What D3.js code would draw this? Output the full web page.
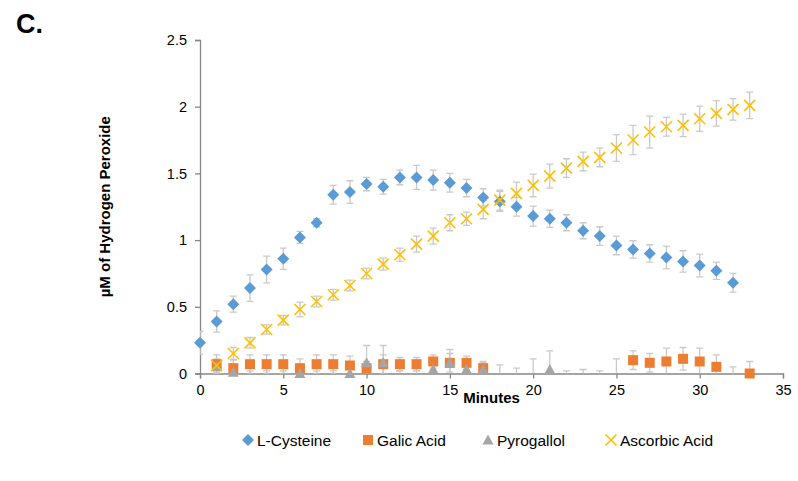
<!DOCTYPE html>
<html><head><meta charset="utf-8">
<script src="https://cdn.jsdelivr.net/npm/d3@7"></script>
<style>body{margin:0;background:#fff}svg{display:block}text{font-family:"Liberation Sans",Arial,sans-serif}</style>
</head><body>
<svg id="c" width="798" height="481"></svg>
<script>
const minutes = d3.range(0, 34);
// values per minute (null = no point)
const lCysteine = [0.23,0.39,0.52,0.64,0.78,0.86,1.02,1.13,1.34,1.36,1.42,1.40,1.47,1.47,1.45,1.43,1.39,1.32,1.29,1.25,1.18,1.16,1.13,1.07,1.03,0.96,0.93,0.90,0.87,0.84,0.81,0.77,0.68,null];
const lCysteineErr = [0.085,0.08,0.06,0.1,0.1,0.08,0.045,0.03,0.07,0.085,0.05,0.055,0.055,0.09,0.075,0.07,0.065,0.065,0.075,0.07,0.075,0.065,0.06,0.06,0.07,0.07,0.065,0.065,0.085,0.08,0.085,0.065,0.07,null];
const galicAcid = [null,0.07,0.04,0.07,0.07,0.07,0.04,0.07,0.07,0.06,0.04,0.07,0.07,0.07,0.09,0.08,0.08,0.04,null,null,null,null,null,null,null,null,0.10,0.08,0.09,0.11,0.09,0.05,-0.02,0.00];
const galicAcidErr = [null,0.07,0.06,0.07,0.07,0.07,0.07,0.07,0.07,0.07,0.05,0.07,0.05,0.05,0.05,0.07,0.05,0.05,null,null,null,null,null,null,null,null,0.07,0.07,0.1,0.085,0.1,0.09,0.07,0.09];
const pyrogallol = [null,0.05,0.01,-0.03,-0.03,-0.03,0.00,-0.03,-0.03,0.00,0.08,0.08,-0.03,-0.03,0.03,0.08,0.03,0.03,-0.02,-0.03,-0.03,0.03,-0.03,-0.03,-0.03,-0.03,null,null,null,null,null,null,null,null];
const pyrogallolErr = [null,0.05,0.04,0.05,0.05,0.05,0.06,0.05,0.05,0.06,0.13,0.13,0.05,0.05,0.04,0.1,0.04,0.05,0.085,0.07,0.14,0.14,0.05,0.06,0.05,0.14,null,null,null,null,null,null,null,null];
const ascorbicAcid = [null,0.06,0.15,0.23,0.33,0.40,0.48,0.54,0.59,0.66,0.75,0.82,0.89,0.97,1.03,1.13,1.16,1.23,1.30,1.35,1.41,1.48,1.54,1.59,1.62,1.69,1.75,1.81,1.85,1.86,1.91,1.95,1.98,2.01];
const ascorbicAcidErr = [null,0.05,0.045,0.04,0.035,0.035,0.055,0.04,0.04,0.04,0.04,0.045,0.05,0.06,0.06,0.06,0.05,0.07,0.075,0.085,0.085,0.09,0.07,0.07,0.07,0.1,0.11,0.12,0.07,0.085,0.095,0.095,0.08,0.1];
const seriesNames = ["L-Cysteine","Galic Acid","Pyrogallol","Ascorbic Acid"];
const xTicks = [0,5,10,15,20,25,30,35];
const yTicks = [0,0.5,1,1.5,2,2.5];

const colors = ["#5b9bd5","#ed7d31","#a5a5a5","#ffc000"];
const symbols = ["diamond","square","triangle","x"];
const series = [
  {name:seriesNames[0], v:lCysteine, e:lCysteineErr},
  {name:seriesNames[1], v:galicAcid, e:galicAcidErr},
  {name:seriesNames[2], v:pyrogallol, e:pyrogallolErr},
  {name:seriesNames[3], v:ascorbicAcid, e:ascorbicAcidErr}
];

const svg = d3.select("#c");
const x = d3.scaleLinear().domain([0,35]).range([200,783]);
const y = d3.scaleLinear().domain([0,2.5]).range([373.5,40]);
const axisColor = "#868686";

svg.append("defs").append("clipPath").attr("id","pa").append("rect")
  .attr("x",x(0)).attr("y",y(2.5)).attr("width",x(35)-x(0)).attr("height",y(0)-y(2.5));

// axes
const gy = svg.append("g").attr("transform",`translate(${x(0)},0)`)
  .call(d3.axisLeft(y).tickValues(yTicks).tickSize(5).tickPadding(8).tickFormat(d3.format("")));
const gx = svg.append("g").attr("transform",`translate(0,${y(0)})`)
  .call(d3.axisBottom(x).tickValues(xTicks).tickSize(5).tickPadding(6));
[gx,gy].forEach(g=>{
  g.select(".domain").attr("stroke",axisColor).attr("stroke-width",1.3);
  g.selectAll(".tick line").attr("stroke",axisColor).attr("stroke-width",1.3);
  g.selectAll(".tick text").attr("fill","#000").style("font-size","14.5px").style("font-family","'Liberation Sans',Arial,sans-serif");
});

// error bars
const eb = svg.append("g").attr("clip-path","url(#pa)");
series.forEach(s=>{
  minutes.forEach((m,i)=>{
    const v=s.v[i], e=s.e[i];
    if(v==null||e==null) return;
    const cx=x(m), y1=y(v+e), y2=y(v-e);
    const g=eb.append("g").attr("stroke","#c9c9c9").attr("stroke-width",1.3);
    g.append("line").attr("x1",cx).attr("x2",cx).attr("y1",y1).attr("y2",y2);
    g.append("line").attr("x1",cx-3.5).attr("x2",cx+3.5).attr("y1",y1).attr("y2",y1);
    g.append("line").attr("x1",cx-3.5).attr("x2",cx+3.5).attr("y1",y2).attr("y2",y2);
  });
});

function marker(g, sym, cx, cy, color){
  if(sym==="diamond"){
    g.append("path").attr("d",`M${cx},${cy-6}L${cx+6},${cy}L${cx},${cy+6}L${cx-6},${cy}Z`).attr("fill",color);
  } else if(sym==="square"){
    g.append("rect").attr("x",cx-5).attr("y",cy-5).attr("width",10).attr("height",10).attr("fill",color);
  } else if(sym==="triangle"){
    g.append("path").attr("d",`M${cx},${cy-5.5}L${cx+5.5},${cy+4.5}L${cx-5.5},${cy+4.5}Z`).attr("fill",color);
  } else {
    g.append("path").attr("d",`M${cx-5.5},${cy-5.5}L${cx+5.5},${cy+5.5}M${cx+5.5},${cy-5.5}L${cx-5.5},${cy+5.5}`)
      .attr("stroke",color).attr("stroke-width",1.6).attr("fill","none");
  }
}

const mk = svg.append("g");
series.forEach((s,si)=>{
  minutes.forEach((m,i)=>{
    const v=s.v[i];
    if(v==null||v<0||v>2.5) return;
    marker(mk, symbols[si], x(m), y(v), colors[si]);
  });
});

// titles
svg.append("text").attr("x",16).attr("y",33).text("C.").attr("font-size","27px").attr("font-weight","bold");
svg.append("text").attr("x",(x(0)+x(35))/2).attr("y",403).attr("text-anchor","middle")
  .attr("font-size","15px").attr("font-weight","bold").text("Minutes");
svg.append("text").attr("transform",`translate(110,${(y(0)+y(2.5))/2}) rotate(-90)`).attr("text-anchor","middle")
  .attr("font-size","15px").attr("font-weight","bold").text("µM of Hydrogen Peroxide");

// legend
const legX = [248,368,488,611];
const lg = svg.append("g");
series.forEach((s,si)=>{
  marker(lg, symbols[si], legX[si], 440, colors[si]);
  lg.append("text").attr("x",legX[si]+9).attr("y",445.5).attr("font-size","15.5px").attr("fill","#000").text(s.name);
});
</script>
</body></html>
